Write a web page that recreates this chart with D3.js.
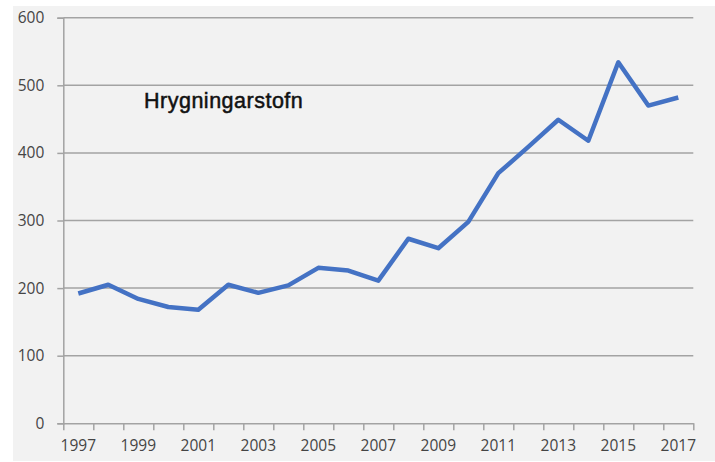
<!DOCTYPE html>
<html>
<head>
<meta charset="utf-8">
<script src="https://cdn.jsdelivr.net/npm/d3@7"></script>
<style>
  body { margin: 0; background: #fff; }
  svg { display: block; }
</style>
</head>
<body>
<svg id="chart"></svg>
<script>
// data
var years = [1997, 1998, 1999, 2000, 2001, 2002, 2003, 2004, 2005, 2006, 2007,
             2008, 2009, 2010, 2011, 2012, 2013, 2014, 2015, 2016, 2017];
var stock = [192, 205, 184, 172, 168, 205, 193, 204, 230, 226, 211,
             273, 259, 298, 370, 409, 449, 418, 534, 470, 482];
var yTicks = [0, 100, 200, 300, 400, 500, 600];
var xLabels = [1997, 1999, 2001, 2003, 2005, 2007, 2009, 2011, 2013, 2015, 2017];
var title = "Hrygningarstofn";

var W = 715, H = 462;
var m = {top: 17.7, left: 63.3, right: 693.3, bottom: 423.3};
var gridCol = "#a3a3a3", labelCol = "#454545";
var tickFont = "'Open Sans', sans-serif";

var svg = d3.select("#chart").attr("width", W).attr("height", H);

svg.append("rect")
  .attr("x", 13).attr("y", 6)
  .attr("width", W - 13).attr("height", H - 7)
  .attr("fill", "#f2f2f2");

var x = d3.scaleBand().domain(years).range([m.left, m.right]).padding(0);
var xEdge = d3.scaleLinear().domain([0, years.length]).range([m.left, m.right]);
var y = d3.scaleLinear().domain([0, 600]).range([m.bottom, m.top]);

// gridlines
svg.append("g")
  .selectAll("line")
  .data(yTicks.filter(function(d) { return d > 0; }))
  .join("line")
  .attr("x1", m.left).attr("x2", m.right)
  .attr("y1", function(d) { return y(d); })
  .attr("y2", function(d) { return y(d); })
  .attr("stroke", gridCol)
  .attr("stroke-width", 1.5);

// y axis
var yAxis = svg.append("g")
  .attr("transform", "translate(" + m.left + ",0)")
  .call(d3.axisLeft(y).tickValues(yTicks).tickSize(6).tickPadding(13));
yAxis.select(".domain").attr("stroke", gridCol).attr("stroke-width", 1.5);
yAxis.selectAll(".tick line").attr("stroke", gridCol).attr("stroke-width", 1.5);
yAxis.selectAll("text")
  .attr("fill", labelCol)
  .style("font-family", tickFont)
  .style("font-size", "15.5px");

// x axis tick marks at category edges
var xAxis = svg.append("g")
  .attr("transform", "translate(0," + m.bottom + ")")
  .call(d3.axisBottom(xEdge).tickValues(d3.range(years.length + 1))
    .tickSize(7).tickFormat("").tickSizeOuter(0));
xAxis.select(".domain").attr("stroke", gridCol).attr("stroke-width", 1.5);
xAxis.selectAll(".tick line").attr("stroke", gridCol).attr("stroke-width", 1.5);

// x labels every other year
var xLab = svg.append("g")
  .attr("transform", "translate(0," + m.bottom + ")")
  .call(d3.axisBottom(x).tickValues(xLabels).tickSize(0).tickPadding(17));
xLab.select(".domain").remove();
xLab.selectAll("text")
  .attr("fill", labelCol)
  .style("font-family", tickFont)
  .style("font-size", "15.5px");

// series
var line = d3.line()
  .x(function(d, i) { return x(years[i]) + x.bandwidth() / 2; })
  .y(function(d) { return y(d); });

svg.append("path")
  .attr("d", line(stock))
  .attr("fill", "none")
  .attr("stroke", "#4472c4")
  .attr("stroke-width", 4.5)
  .attr("stroke-linejoin", "round");

svg.append("text")
  .text(title)
  .attr("x", 144).attr("y", 107.5)
  .attr("fill", "#111")
  .attr("stroke", "#111")
  .attr("stroke-width", 0.5)
  .style("letter-spacing", "0.5px")
  .style("font-family", "'Liberation Sans', Arial, sans-serif")
  .style("font-size", "21.5px");
</script>
</body>
</html>
